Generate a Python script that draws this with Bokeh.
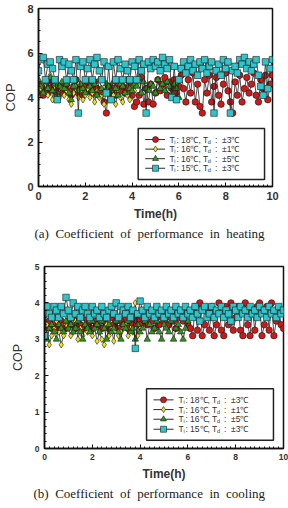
from bokeh.plotting import figure
from bokeh.layouts import column
from bokeh.models import Range1d, Title, FixedTicker
from bokeh.core.properties import value
from bokeh.embed import file_html
from bokeh.resources import INLINE

# Logged COP, one sample every 0.1 h
SAMPLE_STEP_H = 0.1

# ---------------- heating ----------------
heat_t18_d3 = [
    4.6, 4.3, 4.1, 4.5, 4.2, 4.4, 4.7, 4.3, 4.1, 4.5, 4.2,
    4.4, 4.6, 4.3, 4.1, 4.5, 4.8, 4.2, 4.4, 4.1, 4.6,
    4.3, 4.5, 4.2, 4.7, 4.4, 4.1, 4.3, 3.8, 3.3, 4.5,
    4.2, 4.4, 4.1, 4.6, 4.3, 4.5, 4.2, 4.4, 4.7, 4.1,
    3.6, 3.8, 4.1, 4.9, 3.7, 4.4, 3.8, 4.6, 3.7, 4.2,
    4.8, 4.3, 4.6, 4.9, 4.1, 4.7, 4.4, 4.8, 4.2, 4.5,
    5.0, 4.4, 3.8, 4.8, 4.2, 5.1, 3.8, 4.6, 3.6, 3.3,
    4.8, 4.2, 5.0, 3.8, 4.5, 4.9, 4.1, 3.7, 4.6, 5.1,
    4.3, 3.8, 3.3, 4.7, 4.1, 5.0, 3.8, 4.4, 4.9, 4.2,
    4.6, 5.1, 4.1, 3.8, 4.8, 4.4, 5.0, 3.9, 4.6, 5.0,
]
heat_t16_d1 = [
    4.0, 4.4, 4.2, 4.6, 4.1, 5.0, 3.9, 4.5, 4.2, 4.0, 4.4,
    4.1, 4.3, 3.9, 3.7, 4.2, 4.5, 4.0, 4.3, 3.9, 4.1,
    4.4, 4.0, 4.2, 3.8, 4.3, 4.0, 4.1, 3.7, 4.4, 4.2,
    3.9, 4.1, 3.7, 4.3, 4.0, 3.8, 4.2, 4.1, 3.9, 4.4,
    4.3, 4.6,
]
heat_t16_d5 = [
    4.8, 4.5, 4.2, 4.7, 4.4, 4.9, 4.3, 4.6, 4.1, 4.5, 4.7,
    4.4, 4.6, 4.2, 3.9, 4.5, 4.8, 4.3, 4.6, 4.4, 4.2,
    4.7, 4.5, 4.3, 4.6, 4.1, 4.8, 4.4, 4.2, 4.6, 4.5,
    4.3, 4.7, 4.4, 4.1, 4.6, 4.5, 4.2, 4.8, 4.4, 4.3,
    4.6, 4.5, 4.9, 4.2, 4.7, 4.4, 4.3, 4.6, 4.5, 4.2,
    4.8, 4.4, 4.6, 4.3, 4.7, 4.5, 4.2, 4.6, 4.4, 4.0,
]
heat_t15_d3 = [
    5.2, 5.7, 5.8, 4.8, 5.5, 5.6, 5.3, 4.8, 3.9, 5.7, 5.4,
    5.6, 4.8, 5.5, 5.2, 4.8, 5.7, 3.3, 5.4, 5.6, 4.8,
    5.3, 5.7, 4.8, 5.5, 5.8, 5.2, 4.8, 5.6, 4.2, 5.4,
    3.9, 5.6, 4.8, 5.7, 5.3, 4.8, 5.5, 5.2, 4.8, 5.6,
    5.4, 4.8, 5.7, 5.2, 5.5, 3.3, 5.6, 5.3, 5.7, 5.4,
    5.6, 5.2, 5.8, 5.5, 5.3, 5.7, 4.0, 5.4, 3.9, 4.8,
    5.3, 5.6, 5.1, 5.4, 5.7, 5.2, 5.5, 5.0, 5.6, 5.3,
    5.7, 5.1, 5.4, 5.6, 3.3, 5.2, 5.5, 5.0, 5.7, 5.3,
    5.6, 3.3, 5.2, 5.4, 5.1, 5.7, 5.5, 5.8, 5.3, 5.6,
    5.2, 5.5, 5.7, 5.0, 4.5, 4.1, 5.6, 4.4, 5.3, 5.7,
]

# ---------------- cooling ----------------
cool_t18_d3 = [
    3.3, 3.4, 3.5, 3.3, 3.4, 3.6, 3.3, 3.5, 3.4, 3.3, 3.5,
    3.4, 3.6, 3.3, 3.5, 3.4, 3.3, 3.6, 3.4, 3.5, 3.3,
    3.5, 3.4, 3.6, 3.3, 3.5, 3.4, 3.3, 3.6, 3.4, 3.5,
    3.3, 3.5, 3.4, 3.6, 3.3, 3.5, 3.4, 3.6, 3.5, 3.4,
    3.6, 3.5, 3.4, 3.7, 3.5, 3.3, 3.6, 3.4, 3.7, 3.5,
    3.6, 3.4, 3.7, 3.5, 3.3, 3.6, 3.8, 3.5, 3.7, 3.4,
    3.3, 3.1, 3.9, 3.25, 4.0, 3.1, 3.4, 3.8, 3.25, 3.9,
    3.1, 3.4, 4.0, 3.25, 3.1, 3.9, 3.4, 4.0, 3.25, 3.6,
    3.9, 3.25, 3.1, 4.0, 3.4, 3.1, 3.8, 3.25, 3.9, 4.0,
    3.1, 3.4, 3.9, 3.25, 4.0, 3.1, 3.5, 3.8, 3.4, 3.3,
]
cool_t16_d1 = [
    3.2, 3.4, 2.85, 3.1, 3.3, 3.5, 3.2, 2.85, 3.1, 3.4, 3.3,
    3.1, 3.2, 3.5, 3.0, 3.3, 3.1, 3.4, 3.2, 3.5, 3.1,
    3.3, 2.95, 3.2, 3.0, 2.85, 3.4, 3.1, 3.3, 2.95, 3.5,
    3.1, 3.2, 3.3, 3.4, 3.1, 3.3, 3.2, 4.0, 3.1, 3.3,
]
cool_t16_d5 = [
    3.9, 3.0, 3.3, 3.4, 3.2, 3.0, 3.4, 3.3, 3.2, 3.5, 3.3,
    3.4, 3.2, 3.3, 3.5, 3.2, 3.0, 3.4, 3.3, 3.2, 3.5,
    3.3, 3.4, 3.2, 3.5, 3.3, 3.0, 3.4, 3.2, 3.3, 3.5,
    3.2, 3.0, 3.4, 3.3, 3.5, 3.2, 3.3, 3.0, 3.4, 3.2,
    3.3, 3.5, 3.0, 3.4, 3.2, 3.3, 3.5, 3.2, 3.0, 3.4,
    3.3, 3.2, 3.5, 3.0, 3.3, 3.4, 3.2, 3.0, 3.3, 3.5,
]
cool_t15_d3 = [
    3.1, 3.9, 3.7, 3.6, 3.9, 3.8, 3.6, 3.9, 3.7, 4.15, 3.8,
    3.6, 4.0, 3.7, 3.9, 3.6, 3.8, 3.9, 3.7, 3.6, 3.9,
    3.7, 3.8, 3.6, 3.9, 3.7, 3.6, 3.8, 3.9, 3.7, 4.0,
    3.6, 3.9, 3.8, 3.7, 3.9, 3.6, 3.8, 2.75, 3.7, 4.05,
    3.8, 3.6, 3.9, 3.7, 3.8, 3.6, 3.9, 3.7, 3.8, 3.6,
    3.9, 3.7, 3.8, 3.6, 3.9, 3.7, 3.8, 3.6, 3.9, 3.7,
    3.8, 3.6, 3.9, 3.7, 3.5, 3.8, 3.9, 3.6, 3.7, 3.9,
    3.6, 3.8, 3.7, 3.9, 3.6, 3.8, 3.7, 3.5, 3.9, 3.8,
    3.6, 3.9, 3.7, 3.8, 3.6, 3.9, 3.7, 3.8, 3.6, 3.9,
    3.7, 3.8, 3.6, 3.9, 3.7, 3.8, 3.6, 3.9, 3.7, 3.8,
]

# Legend texts: indoor set temperature T_i and differential T_d
set_temps = ["18℃,", "16℃,", "16℃,", "15℃,"]
differentials = ["±3℃", "±1℃", "±5℃", "±3℃"]

x_ticks = [0, 2, 4, 6, 8, 10]
heat_y_ticks = [0, 2, 4, 6, 8]
cool_y_ticks = [0, 1, 2, 3, 4, 5]

SERIES_STYLE = [
    dict(marker="circle", fill="#cc1a1a"),
    dict(marker="diamond", fill="#eee21a"),
    dict(marker="triangle", fill="#2e9a1c"),
    dict(marker="square", fill="#2ec6cc"),
]

SANS = "Liberation Sans"
SERIF = "Liberation Serif"
INK = "#333333"
NB = "\u00a0"


def times(values):
    return [round(i * SAMPLE_STEP_H, 2) for i in range(len(values))]


def frange(a, b, step):
    out, v = [], a
    while v <= b + 1e-9:
        out.append(round(v, 3))
        v += step
    return out


def make_chart(series, y_max, y_ticks, y_minor, caption, caption_offset,
               fw, fh, borders, tick_size, label_size, ylabel_standoff,
               legend_box, legend_rows, legend_x):
    left, right, top, bottom = borders
    p = figure(frame_width=fw, frame_height=fh, frame_align=False,
               x_range=Range1d(0, 10), y_range=Range1d(0, y_max),
               output_backend="svg", toolbar_location=None,
               min_border_left=left, min_border_right=right,
               min_border_top=top, min_border_bottom=bottom,
               background_fill_color="white", border_fill_color="white")
    p.grid.visible = False
    p.outline_line_color = "#111111"
    p.outline_line_width = 1.5

    p.xaxis.ticker = FixedTicker(ticks=x_ticks, minor_ticks=frange(0, 10, 0.2))
    p.yaxis.ticker = FixedTicker(ticks=y_ticks, minor_ticks=frange(0, y_max, y_minor))
    for ax in (p.xaxis[0], p.yaxis[0]):
        ax.axis_line_color = "#111111"
        ax.axis_line_width = 1.5
        ax.major_tick_in = 4
        ax.major_tick_out = 0
        ax.minor_tick_in = 2
        ax.minor_tick_out = 0
        ax.major_tick_line_color = "#111111"
        ax.minor_tick_line_color = "#111111"
        ax.major_label_text_font = SANS
        ax.major_label_text_font_style = "bold"
        ax.major_label_text_font_size = tick_size
        ax.major_label_text_color = INK
        ax.axis_label_text_font = SANS
        ax.axis_label_text_color = INK
    p.xaxis.major_label_standoff = 5
    p.yaxis.major_label_standoff = 5
    p.xaxis.axis_label = "Time(h)"
    p.xaxis.axis_label_text_font_style = "bold"
    p.xaxis.axis_label_text_font_size = "12px"
    p.xaxis.axis_label_standoff = 4
    p.yaxis.axis_label = "COP"
    p.yaxis.axis_label_text_font_style = "normal"
    p.yaxis.axis_label_text_font_size = label_size
    p.yaxis.axis_label_standoff = ylabel_standoff

    for vals, st in zip(series, SERIES_STYLE):
        t = times(vals)
        p.line(t, vals, line_color="#222222", line_width=0.8)
        p.scatter(t, vals, marker=st["marker"], size=6.5,
                  fill_color=st["fill"], line_color="#1a1a1a", line_width=0.6)

    # legend frame and entries
    bl, br, bt, bb = legend_box
    p.quad(left=[bl], right=[br], top=[bt], bottom=[bb],
           fill_color="white", line_color="#222222", line_width=1.5)
    lx0, lmark, lx1, ltext = legend_x
    for y, st, ts, td in zip(legend_rows, SERIES_STYLE, set_temps, differentials):
        p.segment(x0=[lx0], x1=[lx1], y0=[y], y1=[y], line_color="#2a2a2a", line_width=1)
        p.scatter([lmark], [y], marker=st["marker"], size=6,
                  fill_color=st["fill"], line_color="#1a1a1a", line_width=0.6)
        pieces = [("T", 0, 0, "8.5px"), ("i", 4.8, 2, "5.5px"),
                  (":", 7, 0, "8.5px"), (ts, 11.5, 0, "8.5px"),
                  ("T", 33.5, 0, "8.5px"), ("d", 38.3, 2, "5.5px"),
                  (":", 45.5, 0, "8.5px"), (td, 52.5, 0, "8.5px")]
        for txt, dx, dy, fs in pieces:
            p.text([ltext], [y], text=[txt], x_offset=dx, y_offset=dy,
                   text_font=value(SANS), text_font_size=fs,
                   text_color=INK, text_baseline="middle", text_align="left")

    p.add_layout(Title(text=caption, align="left", offset=caption_offset,
                       text_font=SERIF, text_font_size="13px",
                       text_font_style="normal", text_color="#222222",
                       standoff=1), "below")
    return p


def spaced(text):
    return text.replace(" ", NB + " ")


heat = make_chart(
    [heat_t18_d3, heat_t16_d1, heat_t16_d5, heat_t15_d3], 8, heat_y_ticks, 0.5,
    spaced("(a) Coefficient of performance in heating"), -4,
    234, 178, (38, 16, 8, 54), "11px", "13px", 6,
    (4.26, 9.66, 2.61, 0.31), [2.11, 1.68, 1.25, 0.82], (4.56, 5.0, 5.41, 5.6))

cool = make_chart(
    [cool_t18_d3, cool_t16_d1, cool_t16_d5, cool_t15_d3], 5, cool_y_ticks, 0.2,
    spaced("(b) Coefficient of performance in cooling"), -11,
    239, 182, (44, 5, 25, 61), "8.5px", "12.5px", 7,
    (4.27, 9.58, 1.64, 0.23), [1.336, 1.069, 0.804, 0.529], (4.56, 4.98, 5.40, 5.61))

layout = column(heat, cool, spacing=0)
open("out.html", "w").write(file_html(layout, INLINE))
